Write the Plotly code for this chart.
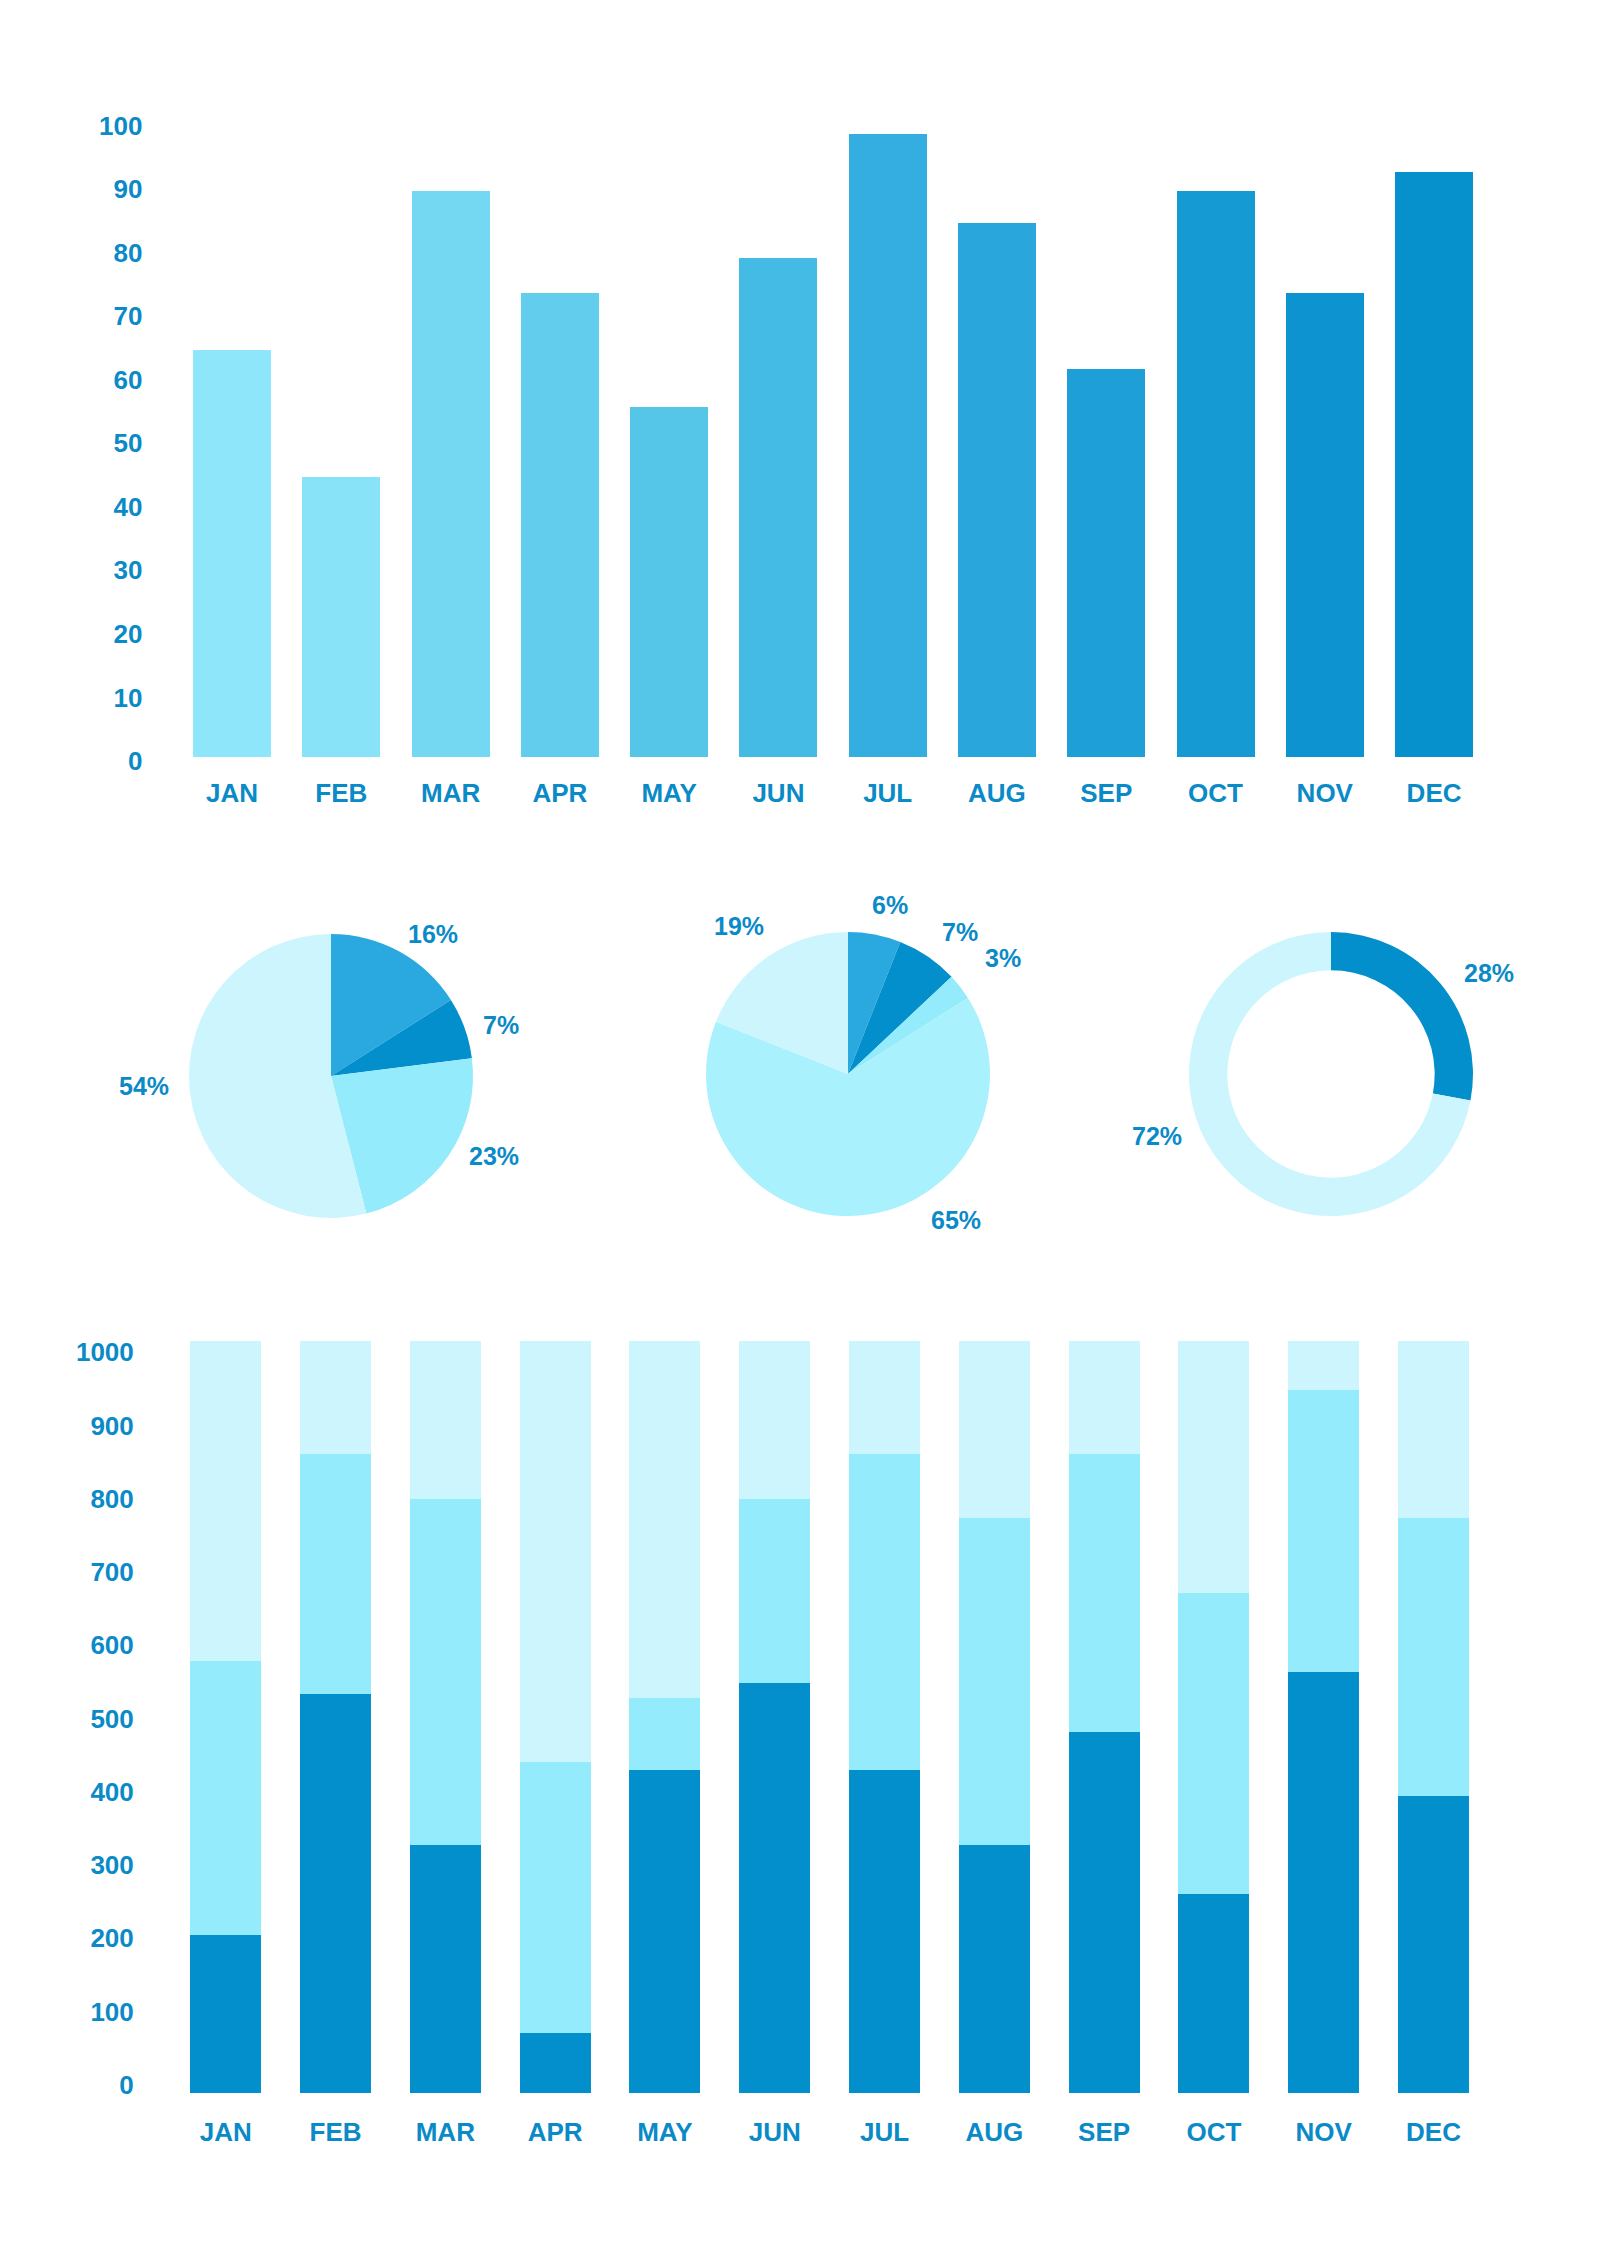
import math
import plotly.graph_objects as go

# ---------------- data ----------------
months = ["JAN", "FEB", "MAR", "APR", "MAY", "JUN", "JUL", "AUG", "SEP", "OCT", "NOV", "DEC"]
top_values = [64, 44, 89, 73, 55, 78.5, 98, 84, 61, 89, 73, 92]
top_ticks = [0, 10, 20, 30, 40, 50, 60, 70, 80, 90, 100]

pie1_values = [16, 7, 23, 54]
pie2_values = [6, 7, 3, 65, 19]
donut_values = [28, 72]

stack_dark = [210, 530, 330, 80, 430, 545, 430, 330, 480, 265, 560, 395]
stack_mid = [365, 320, 460, 360, 95, 245, 420, 435, 370, 400, 375, 370]
stack_light = [425, 150, 210, 560, 475, 210, 150, 235, 150, 335, 65, 235]
bottom_ticks = [0, 100, 200, 300, 400, 500, 600, 700, 800, 900, 1000]

# ---------------- style ----------------
TXT = "#0a8ac7"
FONT = "Liberation Sans, Arial, sans-serif"
top_colors = ["#8ee6fa", "#88e2f8", "#74d8f3", "#62cdec", "#55c5e8", "#44bbe5",
              "#34aee0", "#29a6dc", "#1f9fd7", "#159ad4", "#0d94d0", "#0690cc"]
DARK = "#038fcc"
MID = "#2aa8e0"
CYAN = "#93ebfc"
CYAN2 = "#a8f1fd"
PALE = "#ccf5fd"

W, H = 1600, 2263

# pie geometry (pixels) and label placement tweaks (angle deg, radius px)
pies = [
    dict(values=pie1_values, colors=[MID, DARK, CYAN, PALE], cx=331, cy=1076, hole=0,
         nudge=[7, 3, -8, 4], rnudge=[-7, -4, 0, 5]),
    dict(values=pie2_values, colors=[MID, DARK, CYAN, CYAN2, PALE], cx=848, cy=1074, hole=0,
         nudge=[3, 4, 1, -31, -2], rnudge=[-8, -1, 12, 0, 2]),
    dict(values=donut_values, colors=[DARK, PALE], cx=1331, cy=1074, hole=0.73,
         nudge=[7, 20], rnudge=[5, 3]),
]
R = 142
LABEL_R = 182

# the reference's left tick labels of the bottom chart sit on a slightly
# compressed scale relative to the bars
BOTTOM_TICK_OFFSET = 11
BOTTOM_TICK_SCALE = 0.974


def px_x(a, b):
    return [a / W, b / W]


def px_y(top, bottom):
    return [1 - bottom / H, 1 - top / H]


bold = dict(family=FONT, color=TXT, weight="bold")

fig = go.Figure()

# top bar chart
fig.add_trace(go.Bar(
    x=months, y=top_values, marker=dict(color=top_colors, line=dict(width=0)),
    width=0.714, xaxis="x", yaxis="y", hoverinfo="skip", showlegend=False))

# pies + percentage labels
annotations = []
for p in pies:
    fig.add_trace(go.Pie(
        values=p["values"], sort=False, direction="clockwise", rotation=0, hole=p["hole"],
        marker=dict(colors=p["colors"], line=dict(width=0)), textinfo="none",
        domain=dict(x=px_x(p["cx"] - R, p["cx"] + R), y=px_y(p["cy"] - R, p["cy"] + R)),
        showlegend=False, hoverinfo="skip"))
    total = sum(p["values"])
    cum = 0
    for v, nd, rn in zip(p["values"], p["nudge"], p["rnudge"]):
        mid = (cum + v / 2) / total * 360 + nd
        cum += v
        lr = LABEL_R + rn
        lx = p["cx"] + lr * math.sin(math.radians(mid))
        ly = p["cy"] - lr * math.cos(math.radians(mid))
        annotations.append(dict(
            x=lx / W, y=1 - ly / H, xref="paper", yref="paper", showarrow=False,
            text=f"{round(v / total * 100)}%", xanchor="center", yanchor="middle",
            font=dict(size=25, **bold)))

# bottom stacked bars
for vals, col in [(stack_dark, DARK), (stack_mid, CYAN), (stack_light, PALE)]:
    fig.add_trace(go.Bar(
        x=months, y=vals, marker=dict(color=col, line=dict(width=0)), width=0.647,
        xaxis="x2", yaxis="y2", hoverinfo="skip", showlegend=False))

tick_font = dict(size=26, **bold)
axis_common = dict(showgrid=False, zeroline=False, showline=False, ticks="",
                   tickfont=tick_font, automargin=False, fixedrange=True)

fig.update_layout(
    width=W, height=H, margin=dict(l=0, r=0, t=0, b=0, pad=0), autosize=False,
    paper_bgcolor="white", plot_bgcolor="white", barmode="stack",
    font=dict(family=FONT, color=TXT),
    annotations=annotations,
    xaxis=dict(domain=px_x(177.4, 1488.7), anchor="y", range=[-0.5, 11.5],
               ticklabelstandoff=18, **axis_common),
    yaxis=dict(domain=px_y(121.4, 757), anchor="x", range=[0, 100], tickvals=top_ticks,
               ticklabelstandoff=34, ticklabelshift=4, **axis_common),
    xaxis2=dict(domain=px_x(170.8, 1488.4), anchor="y2", range=[-0.5, 11.5],
                ticklabelstandoff=21, **axis_common),
    yaxis2=dict(domain=px_y(1341, 2093), anchor="x2", range=[0, 1000],
                tickvals=[BOTTOM_TICK_OFFSET + t * BOTTOM_TICK_SCALE for t in bottom_ticks],
                ticktext=[str(t) for t in bottom_ticks],
                ticklabelstandoff=36, **axis_common),
)

fig.write_html("out.html")
